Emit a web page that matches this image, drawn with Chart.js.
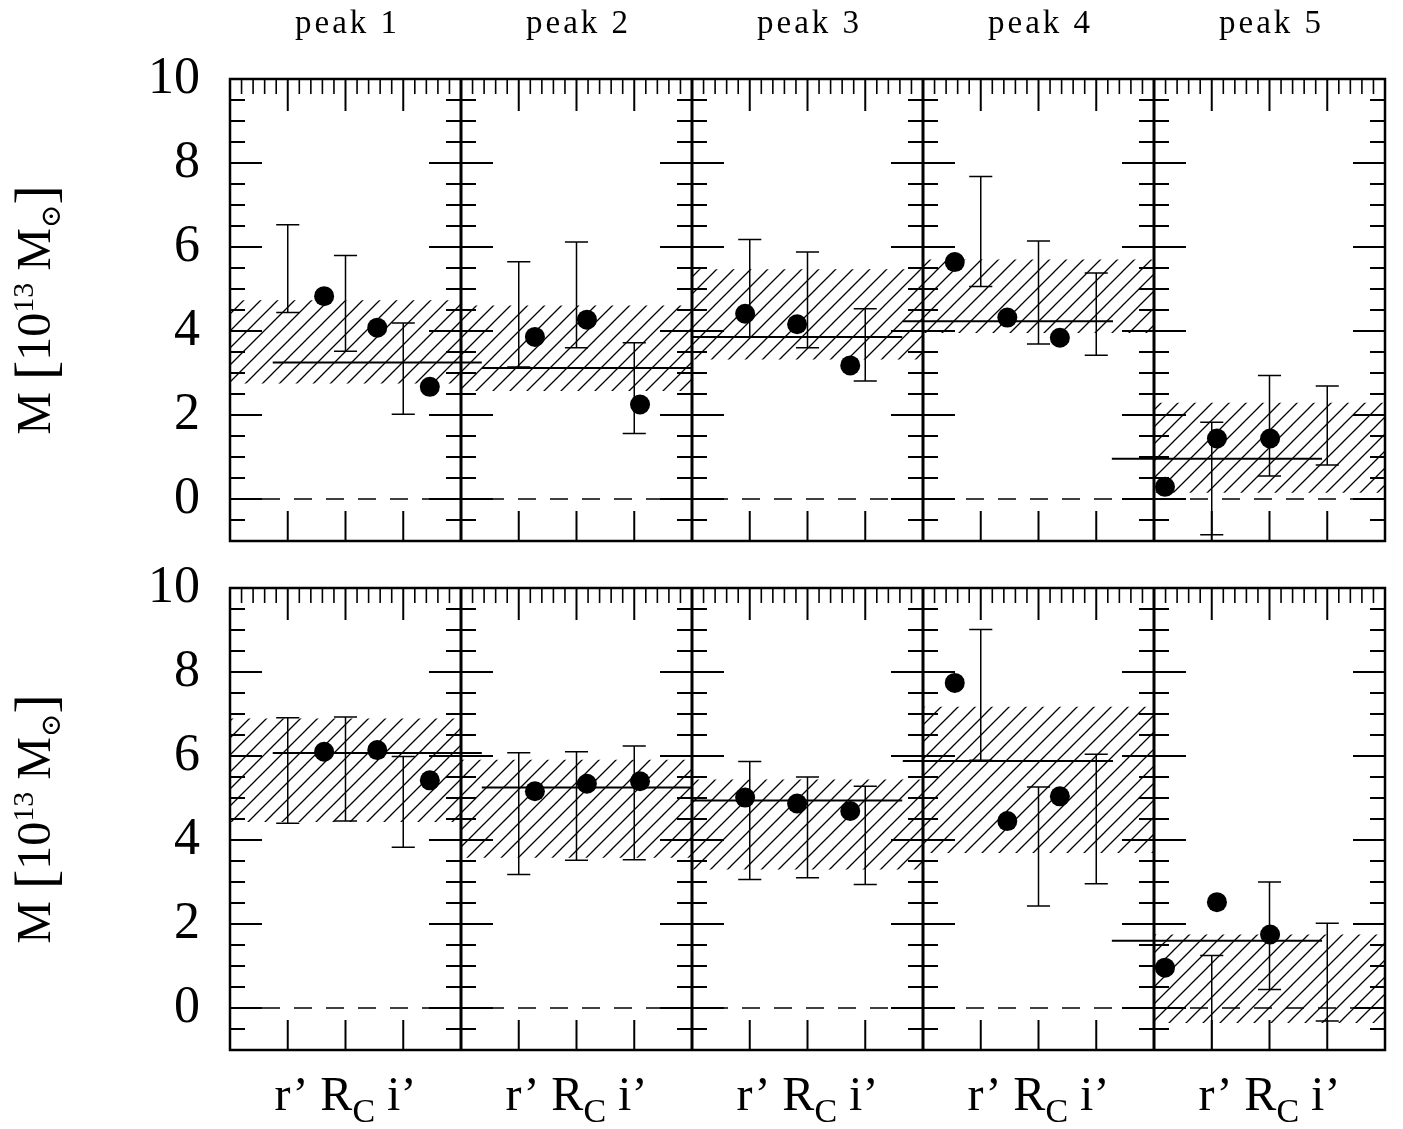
<!DOCTYPE html>
<html>
<head>
<meta charset="utf-8">
<title>Peak masses by filter</title>
<script src="https://cdn.jsdelivr.net/npm/chart.js@4.4.1/dist/chart.umd.min.js"></script>
<style>
  body { margin: 0; background: #fff; }
  canvas { display: block; }
</style>
</head>
<body>
<canvas id="topRow" width="1403" height="560"></canvas>
<canvas id="bottomRow" width="1403" height="569"></canvas>
<script>
// panel titles and tick labels
const peakNames = ["peak 1", "peak 2", "peak 3", "peak 4", "peak 5"];
const yTicks = [0, 2, 4, 6, 8, 10];

// x positions, in quarter-panel units (each panel is 4 units wide)
const errX = [1, 2, 3, 5, 6, 7, 9, 10, 11, 13, 14, 15, 17, 18, 19];
const pointX = [1.63, 2.55, 3.46, 5.28, 6.18, 7.10, 8.92, 9.82, 10.74, 12.55, 13.46, 14.37, 16.19, 17.09, 18.01];
const meanFrom = [0.74, 4.36, 8.0, 11.65, 15.27];
const meanTo = [4.36, 8.0, 11.64, 15.29, 18.91];

// top row: r', Rc, i' for each peak
const topMass = [4.83, 4.08, 2.67, 3.86, 4.27, 2.25, 4.41, 4.16, 3.18, 5.64, 4.32, 3.84, 0.29, 1.44, 1.44];
const topErrLo = [4.44, 3.52, 2.02, 3.14, 3.60, 1.56, 3.86, 3.60, 2.81, 5.06, 3.69, 3.42, -0.85, 0.55, 0.81];
const topErrHi = [6.53, 5.80, 4.19, 5.65, 6.12, 3.72, 6.18, 5.88, 4.53, 7.68, 6.14, 5.38, 1.83, 2.94, 2.69];
const topMean = [3.25, 3.12, 3.86, 4.23, 0.96];
const topBandLo = [2.75, 2.57, 3.32, 3.95, 0.15];
const topBandHi = [4.73, 4.61, 5.47, 5.70, 2.29];

// bottom row
const botMass = [6.10, 6.14, 5.42, 5.16, 5.34, 5.40, 5.01, 4.87, 4.69, 7.74, 4.45, 5.04, 0.96, 2.52, 1.75];
const botErrLo = [4.40, 4.45, 3.83, 3.18, 3.52, 3.53, 3.06, 3.10, 2.94, 5.90, 2.43, 2.96, -1.6, 0.44, -0.31];
const botErrHi = [6.91, 6.93, 5.99, 6.08, 6.10, 6.24, 5.87, 5.50, 5.28, 9.01, 5.26, 6.04, 1.25, 3.00, 2.02];
const botMean = [6.07, 5.25, 4.94, 5.88, 1.60];
const botBandLo = [4.43, 3.58, 3.30, 3.69, -0.36];
const botBandHi = [6.89, 5.91, 5.44, 7.17, 1.75];

const SERIF = '"Liberation Serif", "DejaVu Serif", serif';
const capHalf = 0.2;

Chart.defaults.font.family = SERIF;
Chart.defaults.color = "#000";

// diagonal hatch for the shaded bands
function makeHatch(ctx) {
  const s = 17;
  const tile = document.createElement("canvas");
  tile.width = s;
  tile.height = s;
  const g = tile.getContext("2d");
  g.strokeStyle = "#000";
  g.lineWidth = 1.3;
  g.beginPath();
  g.moveTo(-2, s + 2); g.lineTo(s + 2, -2);
  g.moveTo(-2, 2); g.lineTo(2, -2);
  g.moveTo(s - 2, s + 2); g.lineTo(s + 2, s - 2);
  g.stroke();
  return ctx.createPattern(tile, "repeat");
}

function buildDatasets(hatch, mass, errLo, errHi, mean, bandLo, bandHi) {
  const sets = [];
  for (let i = 0; i < 5; i++) {
    sets.push({
      data: [{ x: 4 * i, y: bandHi[i] }, { x: 4 * i + 4, y: bandHi[i] }],
      fill: { value: bandLo[i] },
      backgroundColor: hatch,
      borderWidth: 0,
      pointRadius: 0,
      order: 6,
    });
  }

  // dashed zero line
  sets.push({
    data: [{ x: 0, y: 0 }, { x: 20, y: 0 }],
    borderColor: "#000",
    borderWidth: 1.5,
    borderDash: [18, 14],
    pointRadius: 0,
    fill: false,
    order: 5,
  });

  // mean of the three filters
  const meanPts = [];
  mean.forEach((m, i) => {
    meanPts.push({ x: meanFrom[i], y: m }, { x: meanTo[i], y: m }, { x: meanTo[i], y: null });
  });
  sets.push({
    data: meanPts,
    borderColor: "#000",
    borderWidth: 2,
    pointRadius: 0,
    fill: false,
    order: 4,
  });

  // error bars with caps
  const errPts = [];
  errX.forEach((x, k) => {
    errPts.push(
      { x: x, y: errLo[k] }, { x: x, y: errHi[k] }, { x: x, y: null },
      { x: x - capHalf, y: errHi[k] }, { x: x + capHalf, y: errHi[k] }, { x: x, y: null },
      { x: x - capHalf, y: errLo[k] }, { x: x + capHalf, y: errLo[k] }, { x: x, y: null }
    );
  });
  sets.push({
    data: errPts,
    borderColor: "#000",
    borderWidth: 1.5,
    pointRadius: 0,
    fill: false,
    order: 3,
  });

  // filled points
  sets.push({
    data: pointX.map((x, k) => ({ x: x, y: mass[k] })),
    showLine: false,
    pointRadius: 10,
    pointHoverRadius: 10,
    pointBackgroundColor: "#000",
    pointBorderWidth: 0,
    fill: false,
    order: 1,
  });
  return sets;
}

// frame, panel dividers and inward ticks
const framePlugin = {
  id: "frame",
  afterDatasetsDraw(chart) {
    const { ctx, chartArea: a, scales: { x, y } } = chart;
    const seg = (x1, y1, x2, y2, w) => {
      ctx.lineWidth = w;
      ctx.beginPath();
      ctx.moveTo(x1, y1);
      ctx.lineTo(x2, y2);
      ctx.stroke();
    };
    ctx.save();
    ctx.strokeStyle = "#000";

    for (let p = 0; p <= 5; p++) {
      const px = x.getPixelForValue(p * 4);
      for (let k = -1; k <= 19; k++) {
        const py = y.getPixelForValue(k / 2);
        const len = k % 4 === 0 ? 32 : 15;
        if (p < 5) seg(px, py, px + len, py, 2);
        if (p > 0) seg(px - len, py, px, py, 2);
      }
    }
    for (let k = 1; k < 100; k++) {
      if (k % 20 === 0) continue;
      const px = x.getPixelForValue(k * 0.2);
      seg(px, a.top, px, a.top + (k % 5 === 0 ? 32 : 15), k % 5 === 0 ? 2 : 1.6);
    }
    for (let q = 1; q < 20; q++) {
      if (q % 4 === 0) continue;
      const px = x.getPixelForValue(q);
      seg(px, a.bottom, px, a.bottom - 30, 2);
    }
    for (let p = 1; p < 5; p++) {
      const px = x.getPixelForValue(p * 4);
      seg(px, a.top, px, a.bottom, 3);
    }
    ctx.lineWidth = 2.5;
    ctx.strokeRect(a.left, a.top, a.right - a.left, a.bottom - a.top);
    ctx.restore();
  },
  afterDraw(chart, args, opts) {
    const { ctx, chartArea: a, scales: { x } } = chart;
    ctx.save();
    ctx.fillStyle = "#000";
    ctx.textBaseline = "alphabetic";

    // y axis title: M [10^13 M_sun]
    const parts = [
      { t: "M ", f: 48, dy: 0 },
      { t: "[", f: 58, dy: 4 },
      { t: "10", f: 48, dy: 0 },
      { t: "13", f: 30, dy: -17 },
      { t: " M", f: 48, dy: 0 },
      { t: "⊙", f: 28, dy: 10 },
      { t: "]", f: 58, dy: 4 },
    ];
    let total = 0;
    parts.forEach((p) => {
      ctx.font = p.f + "px " + SERIF;
      p.w = ctx.measureText(p.t).width;
      total += p.w;
    });
    ctx.translate(50, (a.top + a.bottom) / 2);
    ctx.rotate(-Math.PI / 2);
    let cx = -total / 2;
    parts.forEach((p) => {
      ctx.font = p.f + "px " + SERIF;
      ctx.fillText(p.t, cx, p.dy);
      cx += p.w;
    });
    ctx.setTransform(1, 0, 0, 1, 0, 0);

    if (opts.titles) {
      ctx.font = "33px " + SERIF;
      ctx.textAlign = "center";
      ctx.letterSpacing = "3px";
      peakNames.forEach((name, i) => {
        ctx.fillText(name, x.getPixelForValue(4 * i + 2) + 2, 33);
      });
      ctx.letterSpacing = "0px";
    }

    if (opts.filters) {
      ctx.textAlign = "left";
      const base = a.bottom + 60;
      for (let i = 0; i < 5; i++) {
        ctx.font = "48px " + SERIF;
        const w1 = ctx.measureText("r’ R").width;
        const w3 = ctx.measureText(" i’").width;
        ctx.font = "34px " + SERIF;
        const w2 = ctx.measureText("C").width;
        let sx = x.getPixelForValue(4 * i + 2) - (w1 + w2 + w3) / 2;
        ctx.font = "48px " + SERIF;
        ctx.fillText("r’ R", sx, base);
        sx += w1;
        ctx.font = "34px " + SERIF;
        ctx.fillText("C", sx, base + 12);
        sx += w2;
        ctx.font = "48px " + SERIF;
        ctx.fillText(" i’", sx, base);
      }
    }
    ctx.restore();
  },
};

function makeRow(id, padding, flags, mass, errLo, errHi, mean, bandLo, bandHi) {
  const canvas = document.getElementById(id);
  const hatch = makeHatch(canvas.getContext("2d"));
  return new Chart(canvas, {
    type: "line",
    data: { datasets: buildDatasets(hatch, mass, errLo, errHi, mean, bandLo, bandHi) },
    options: {
      responsive: false,
      animation: false,
      devicePixelRatio: 1,
      layout: { padding: padding },
      plugins: {
        legend: { display: false },
        tooltip: { enabled: false },
        frame: flags,
      },
      scales: {
        x: { type: "linear", min: 0, max: 20, display: false },
        y: {
          type: "linear",
          min: -1,
          max: 10,
          position: "left",
          grid: { display: false, drawTicks: false },
          border: { display: false },
          ticks: {
            color: "#000",
            padding: 30,
            autoSkip: false,
            font: { family: SERIF, size: 52 },
            callback: (v) => String(v),
          },
          afterBuildTicks: (s) => {
            s.ticks = yTicks.map((v) => ({ value: v }));
          },
          afterFit: (s) => {
            s.width = 230;
            s.paddingTop = 0;
            s.paddingBottom = 0;
          },
        },
      },
    },
    plugins: [framePlugin],
  });
}

makeRow("topRow", { left: 0, right: 18, top: 79, bottom: 19 }, { titles: true },
  topMass, topErrLo, topErrHi, topMean, topBandLo, topBandHi);
makeRow("bottomRow", { left: 0, right: 18, top: 28, bottom: 79 }, { filters: true },
  botMass, botErrLo, botErrHi, botMean, botBandLo, botBandHi);
</script>
</body>
</html>
